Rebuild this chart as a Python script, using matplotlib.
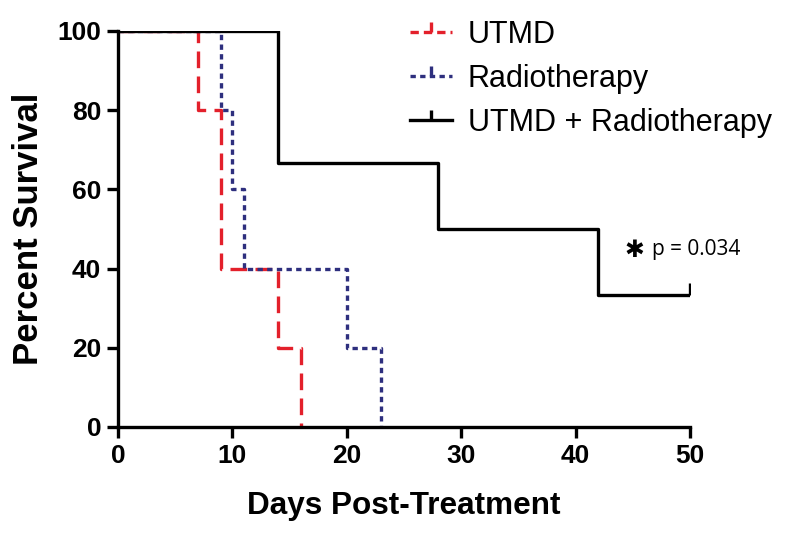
import matplotlib
matplotlib.use("Agg")
import matplotlib.pyplot as plt
from matplotlib.lines import Line2D

# survival data (days, percent)
utmd_t = [0, 7, 9, 14, 16]
utmd_s = [100, 80, 40, 20, 0]
radio_t = [0, 9, 10, 11, 20, 23]
radio_s = [100, 80, 60, 40, 20, 0]
combo_t = [0, 14, 28, 42, 50]
combo_s = [100, 66.7, 50, 33.3, 33.3]

labels = ["UTMD", "Radiotherapy", "UTMD + Radiotherapy"]
red = "#e3202b"
navy = "#2e2f7e"

fig = plt.figure(figsize=(8, 5.33), dpi=100)
ax = fig.add_axes([0.1475, 0.199, 0.715, 0.743])

ax.step(utmd_t, utmd_s, where="post", color=red, lw=2.4,
        dashes=(5, 2.5), label=labels[0])
ax.step(radio_t, radio_s, where="post", color=navy, lw=2.4,
        dashes=(1.6, 1.3), label=labels[1])
ax.step(combo_t, combo_s, where="post", color="black", lw=2.4, label=labels[2])
# censor mark at end of follow-up
ax.plot(combo_t[-1], combo_s[-1], marker=2, ms=9, mew=2.4, color="black")

handles = [
    Line2D([], [], color=red, lw=2.4, dashes=(2.5, 1.5), marker=2, ms=7, mew=2.4),
    Line2D([], [], color=navy, lw=2.4, dashes=(1.6, 1.3), marker=2, ms=7, mew=2.4),
    Line2D([], [], color="black", lw=2.4, marker=2, ms=7, mew=2.4),
]
fig.legend(handles, labels, loc="upper left", bbox_to_anchor=(0.512, 0.963),
           bbox_transform=fig.transFigure, frameon=False, numpoints=1,
           handlelength=1.4, handletextpad=0.5, labelspacing=0.46,
           borderpad=0, borderaxespad=0,
           prop={"family": "Liberation Sans", "size": 22})

ax.text(45.1, 44.7, "\u2731", fontsize=17, ha="center", va="center",
        family="DejaVu Sans")
ax.text(46.7, 44.7, "p = 0.034", fontsize=15, ha="left", va="center",
        family="Open Sans")

ax.set_xlim(0, 50)
ax.set_ylim(0, 100)
ax.set_xticks([0, 10, 20, 30, 40, 50])
ax.set_yticks([0, 20, 40, 60, 80, 100])
for s in ["top", "right"]:
    ax.spines[s].set_visible(False)
for s in ["left", "bottom"]:
    ax.spines[s].set_linewidth(2.4)
ax.tick_params(width=2.4, length=8, direction="out", labelsize=19, pad=4)
for lbl in ax.get_xticklabels() + ax.get_yticklabels():
    lbl.set_fontweight("bold")
    lbl.set_family("Liberation Sans")
ax.set_xlabel("Days Post-Treatment", fontsize=22.7, fontweight="bold",
              family="Liberation Sans", labelpad=17)
ax.set_ylabel("Percent Survival", fontsize=25, fontweight="bold",
              family="Liberation Sans", labelpad=9)

fig.savefig("out.png", dpi=100)
